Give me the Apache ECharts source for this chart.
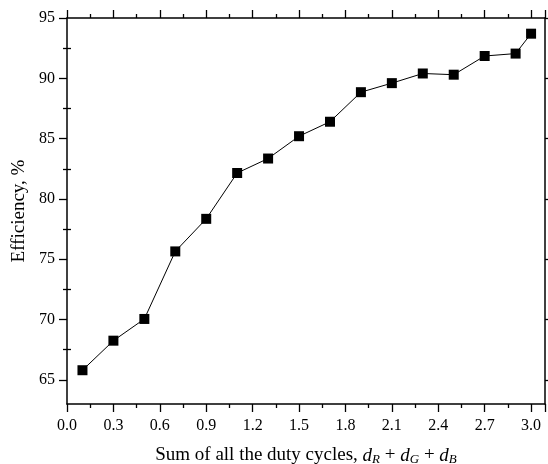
<!DOCTYPE html>
<html><head><meta charset="utf-8">
<script src="https://cdn.jsdelivr.net/npm/echarts@6/dist/echarts.min.js"></script>
<style>html,body{margin:0;padding:0;background:#fff}#c{width:548px;height:464px}</style>
</head><body><div id="c"></div>
<script>
const dutySum = [0.1, 0.3, 0.5, 0.7, 0.9, 1.1, 1.3, 1.5, 1.7, 1.9, 2.1, 2.3, 2.5, 2.7, 2.9, 3.0];
const efficiency = [65.8, 68.25, 70.05, 75.65, 78.35, 82.15, 83.35, 85.2, 86.4, 88.85, 89.6, 90.4, 90.3, 91.85, 92.05, 93.7];
const xTicks = [0.0, 0.3, 0.6, 0.9, 1.2, 1.5, 1.8, 2.1, 2.4, 2.7, 3.0];
const yTicks = [65, 70, 75, 80, 85, 90, 95];
const yMinorTicks = [67.5, 72.5, 77.5, 82.5, 87.5, 92.5];

const FONT = '"Liberation Serif", "Times New Roman", serif';
const black = '#000';
const lineStyle = {color: black, width: 1.5};
const tickStyle = {color: black, width: 1.3};

const xBase = {type: 'value', min: 0, max: 3.09, interval: 0.3, splitLine: {show: false}};
const yBase = {type: 'value', min: 63, max: 95, splitLine: {show: false}};

const xAxisCommon = (pos, extra) => Object.assign({}, xBase, {
  position: pos,
  axisLine: {show: true, onZero: false, lineStyle},
  axisTick: {show: true, length: 8, lineStyle: tickStyle},
  minorTick: {show: true, splitNumber: 2, length: 4, lineStyle: tickStyle},
  axisLabel: {show: false}
}, extra);

const yMajor = (pos, extra) => Object.assign({}, yBase, {
  position: pos,
  axisLine: {show: true, onZero: false, lineStyle},
  axisTick: {show: true, length: 8, lineStyle: tickStyle, customValues: yTicks},
  axisLabel: {show: false}
}, extra);
const yMinor = (pos) => Object.assign({}, yBase, {
  position: pos,
  axisLine: {show: false},
  axisTick: {show: true, length: 4, lineStyle: tickStyle, customValues: yMinorTicks},
  axisLabel: {show: false}
});

const chart = echarts.init(document.getElementById('c'), null, {renderer: 'canvas'});
chart.setOption({
  animation: false,
  backgroundColor: '#fff',
  grid: {left: 67, right: 3, top: 18, bottom: 60, containLabel: false, outerBoundsMode: 'none'},
  xAxis: [
    xAxisCommon('bottom', {
      axisLabel: {show: true, showMaxLabel: false, fontFamily: FONT, fontSize: 16, color: black, margin: 14,
        formatter: v => xTicks.some(t => Math.abs(t - v) < 1e-6) ? v.toFixed(1) : ''},
      name: 'Sum of all the duty cycles, {i|d}{s|R} + {i|d}{s|G} + {i|d}{s|B}',
      nameLocation: 'middle', nameGap: 41,
      nameTextStyle: {fontFamily: FONT, fontSize: 19, color: black,
        rich: {
          i: {fontFamily: FONT, fontSize: 19, fontStyle: 'italic', color: black},
          s: {fontFamily: FONT, fontSize: 13, fontStyle: 'italic', color: black, padding: [8, 0, 0, 0]}
        }}
    }),
    xAxisCommon('top', {})
  ],
  yAxis: [
    yMajor('left', {
      axisLabel: {show: true, customValues: yTicks, fontFamily: FONT, fontSize: 16, color: black, margin: 12},
      name: 'Efficiency, %', nameLocation: 'middle', nameGap: 36,
      nameTextStyle: {fontFamily: FONT, fontSize: 19, color: black}
    }),
    yMajor('right', {}),
    yMinor('left'),
    yMinor('right')
  ],
  series: [{
    type: 'line',
    xAxisIndex: 0, yAxisIndex: 0,
    data: dutySum.map((x, i) => [x, efficiency[i]]),
    symbol: 'rect', symbolSize: 10,
    itemStyle: {color: black},
    lineStyle: {color: black, width: 1},
    z: 3
  }]
});
</script></body></html>
